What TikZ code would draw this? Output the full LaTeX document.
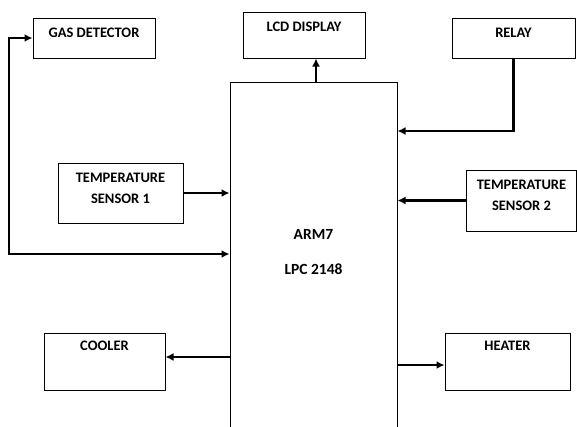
\documentclass[tikz,border=0pt]{standalone}
\usepackage{fontspec}
\setmainfont{Carlito}
\usetikzlibrary{arrows.meta}
\usetikzlibrary{positioning}

\begin{document}
\begin{tikzpicture}[x=1pt,y=-1pt,
        block/.style={draw, line width=1pt, inner sep=0pt},
        conn/.style={line width=2.5pt, -{Latex[length=8pt,width=8pt]}},
        conntwo/.style={line width=2.5pt, {Latex[length=8pt,width=8pt]}-{Latex[length=8pt,width=8pt]}},
        every label/.style={font=\fontsize{14.5}{21}\selectfont\bfseries, align=center, inner sep=0pt}]
        \clip (0,0) rectangle (577,426); % picture frame
        % blocks
        \node[block, minimum width=122pt, minimum height=40pt, label={[anchor=center,yshift=-15.5pt]north:GAS DETECTOR}] (gas) at (94,38) {};
        \node[block, minimum width=122pt, minimum height=46pt, label={[anchor=center,yshift=-15.5pt]north:LCD DISPLAY}] (lcd) at (304,35) {};
        \node[block, minimum width=123pt, minimum height=40pt, label={[anchor=center,yshift=-15.5pt]north:RELAY}] (relay) at (513.5,38) {};
        \node[block, minimum width=125pt, minimum height=60pt, label={[anchor=center,yshift=4.5pt]center:TEMPERATURE\\SENSOR 1}] (tsone) at (120.5,193) {};
        \node[block, minimum width=110pt, minimum height=61pt, label={[anchor=center,yshift=5.5pt]center:TEMPERATURE\\SENSOR 2}] (tstwo) at (521.5,200.5) {};
        \node[block, minimum width=167pt, minimum height=358pt, label={[anchor=center,yshift=8.5pt,font=\fontsize{15.5}{21}\selectfont\bfseries]center:ARM7\\[14pt]LPC 2148}] (arm) at (313.5,261) {};
        \node[block, minimum width=121pt, minimum height=57pt, label={[anchor=center,yshift=-13.7pt]north:COOLER}] (cooler) at (104.5,361.5) {};
        \node[block, minimum width=125pt, minimum height=57pt, label={[anchor=center,yshift=-13.7pt]north:HEATER}] (heater) at (507.5,361.5) {};
        % connectors
        \coordinate (lcdin) at ([xshift=2.5pt]arm.north);
        \draw[conn] (lcdin) -- (lcdin |- lcd.south);
        \draw[conn] (relay.south) |- (arm.east |- 0,131);
        \draw[conn] (tsone.east) -- (arm.west |- tsone.east);
        \draw[conn] (tstwo.west) -- (arm.east |- tstwo.west);
        \draw[conntwo] (gas.west) -| (9,254) -- (arm.west |- 0,254);
        \draw[conn] (arm.west |- 0,357) -- (cooler.east |- 0,357);
        \draw[conn] (arm.east |- 0,365) -- (heater.west |- 0,365);
\end{tikzpicture}
\end{document}
